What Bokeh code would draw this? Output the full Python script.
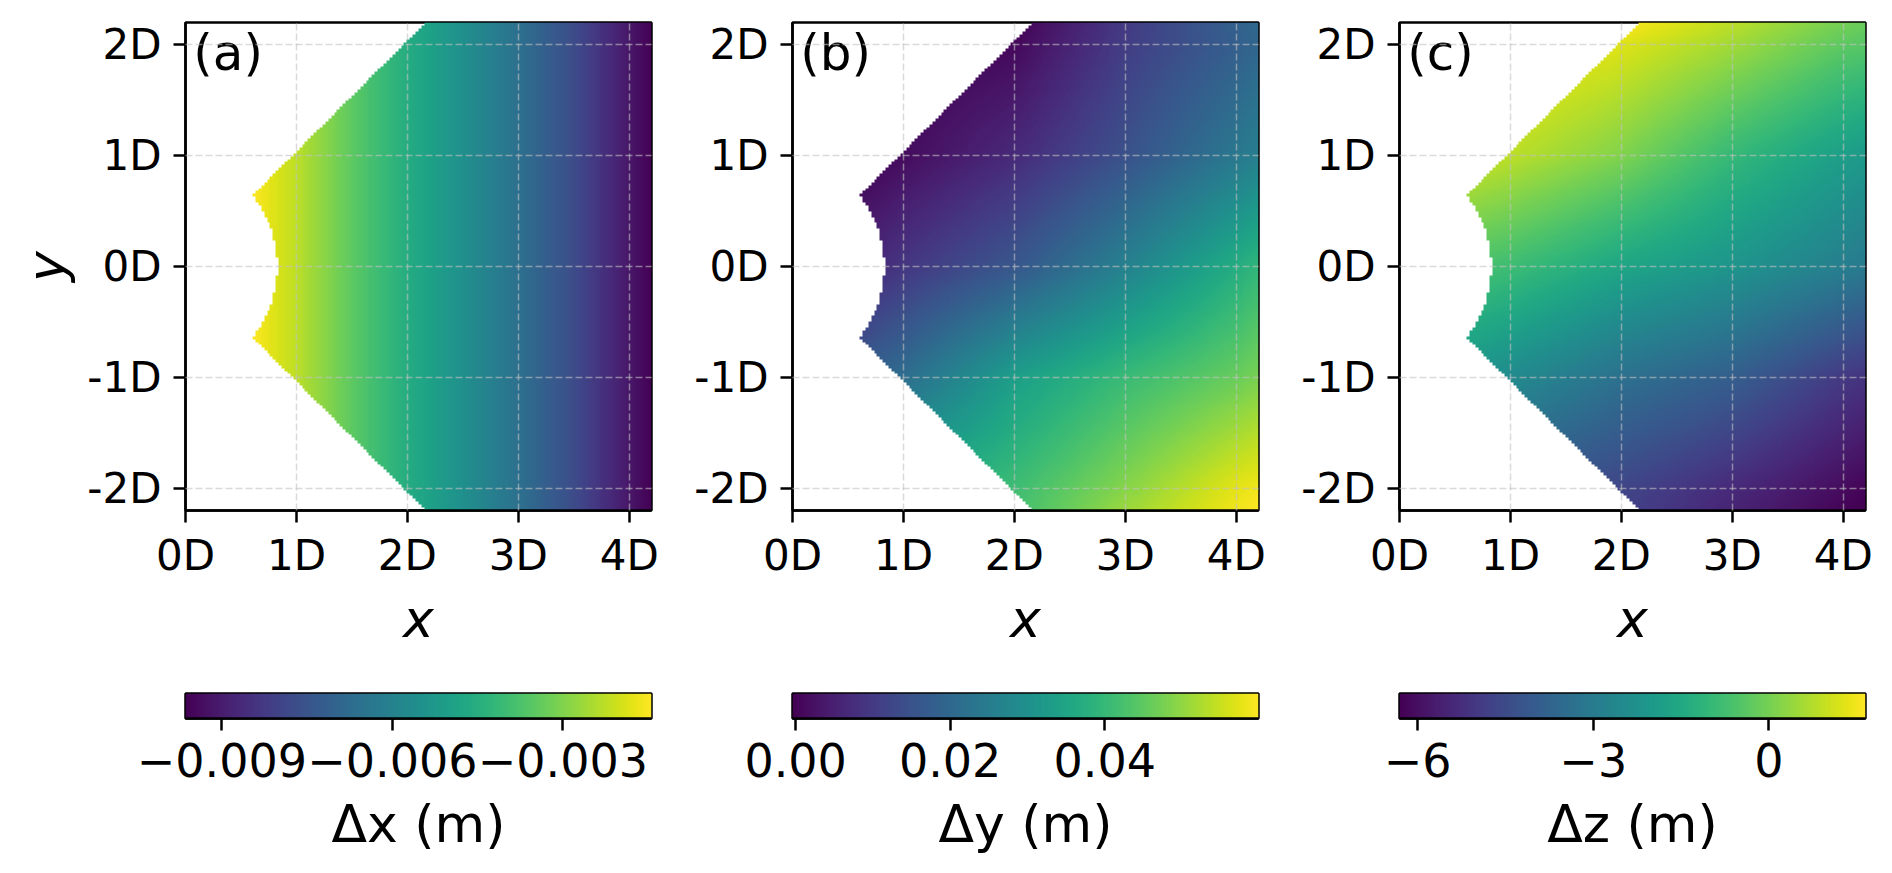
import numpy as np
from bokeh.plotting import figure
from bokeh.models import LinearColorMapper, FixedTicker, Range1d, Label, CustomJSTickFormatter
from bokeh.layouts import column, row
from bokeh.palettes import Viridis256
from bokeh.embed import file_html
from bokeh.resources import INLINE

# ---------------- axis ticks ----------------
x_ticks = [0, 1, 2, 3, 4]
x_tick_labels = ["0D", "1D", "2D", "3D", "4D"]
y_ticks = [-2, -1, 0, 1, 2]
y_tick_labels = ["-2D", "-1D", "0D", "1D", "2D"]

# ---------------- sampled field values (read from the picture) ----------------
# panel (a): Δx depends on x only
dx_x = [0.6, 1.0, 1.5, 2.0, 2.5, 3.0, 3.5, 4.0, 4.2]
dx_values = [-0.00144, -0.00226, -0.00349, -0.00456, -0.00554, -0.00661, -0.00775, -0.00915, -0.00964]

# panels (b), (c): values on a coarse grid (rows = grid_y, cols = grid_x)
grid_x = [0.6, 1.0, 2.0, 3.0, 4.0, 4.2]
grid_y = [2.2, 2.0, 1.0, 0.0, -1.0, -2.0, -2.2]

dy_values = [
    [-0.0004, -0.0004, -0.0004, 0.0099, 0.0183, 0.0201],
    [-0.0004, -0.0004, 0.0008, 0.0105, 0.0177, 0.0195],
    [-0.0004, 0.0014, 0.0068, 0.0147, 0.0237, 0.0255],
    [0.0056, 0.0092, 0.0159, 0.0261, 0.0370, 0.0394],
    [0.0177, 0.0213, 0.0334, 0.0406, 0.0460, 0.0478],
    [0.0328, 0.0358, 0.0412, 0.0490, 0.0575, 0.0587],
    [0.0346, 0.0376, 0.0418, 0.0509, 0.0587, 0.0599],
]

dz_values = [
    [1.65, 1.65, 1.65, 0.85, -0.02, -0.18],
    [1.65, 1.65, 1.25, 0.54, -0.34, -0.42],
    [1.09, 0.85, 0.14, -0.98, -1.85, -2.01],
    [-0.58, -0.82, -1.61, -2.17, -2.89, -3.05],
    [-2.17, -2.49, -3.36, -3.92, -4.96, -5.12],
    [-3.76, -4.08, -4.64, -5.36, -6.07, -6.23],
    [-4.00, -4.32, -4.72, -5.51, -6.23, -6.31],
]

# colour ranges
dx_range = [-0.00964, -0.00144]
dy_range = [-0.0004, 0.0599]
dz_range = [-6.31, 1.65]

# colourbar ticks
cb_ticks_a = [-0.009, -0.006, -0.003]
cb_labels_a = ["\u22120.009", "\u22120.006", "\u22120.003"]
cb_ticks_b = [0.0, 0.02, 0.04]
cb_labels_b = ["0.00", "0.02", "0.04"]
cb_ticks_c = [-6, -3, 0]
cb_labels_c = ["\u22126", "\u22123", "0"]

panel_tags = ["(a)", "(b)", "(c)"]
cb_titles = ["\u0394x (m)", "\u0394y (m)", "\u0394z (m)"]

# ---------------- geometry of the domain ----------------
XMIN, XMAX, YMIN, YMAX = 0.0, 4.2, -2.2, 2.2
NX, NY = 160, 168
xc = XMIN + (np.arange(NX) + 0.5) * (XMAX - XMIN) / NX
yc = YMIN + (np.arange(NY) + 0.5) * (YMAX - YMIN) / NY
XX, YY = np.meshgrid(xc, yc)
inside = (XX >= np.abs(YY) - 0.03) & ((XX + 0.17) ** 2 + YY ** 2 >= 1.0)


def on_grid(table):
    t = np.array(table, dtype=float)[::-1]
    gy = np.array(grid_y, dtype=float)[::-1]
    rows = np.array([np.interp(xc, grid_x, r) for r in t])
    out = np.empty((NY, NX))
    for j in range(NX):
        out[:, j] = np.interp(yc, gy, rows[:, j])
    return out


field_a = np.interp(XX, dx_x, dx_values)
field_b = on_grid(dy_values)
field_c = on_grid(dz_values)
fields = []
for f in (field_a, field_b, field_c):
    g = f.copy()
    g[~inside] = np.nan
    fields.append(g)

ranges = [dx_range, dy_range, dz_range]
cb_ticks = [cb_ticks_a, cb_ticks_b, cb_ticks_c]
cb_labels = [cb_labels_a, cb_labels_b, cb_labels_c]

FONT = "DejaVu Sans"
FW, FH = 466, 488
TOP1, BOT1 = 22, 150
TOP2, CBH, BOT2 = 33, 25, 150
borders = [(185, 40), (101, 40), (101, 26)]

LOOKUP = """
let best = 0; let d = Infinity;
for (let i = 0; i < tv.length; i++) { const e = Math.abs(tv[i] - tick); if (e < d) { d = e; best = i; } }
return tl[best];
"""


def style_axis(ax, label_size="42px"):
    ax.major_tick_out = 12
    ax.major_tick_in = 0
    ax.major_tick_line_width = 2.5
    ax.major_tick_line_color = "black"
    ax.minor_tick_line_color = None
    ax.axis_line_width = 2.5
    ax.axis_line_color = "black"
    ax.major_label_text_font = FONT
    ax.major_label_text_font_size = label_size
    ax.major_label_text_color = "black"
    ax.axis_label_text_font = FONT
    ax.axis_label_text_font_size = "52px"
    ax.axis_label_text_color = "black"


panels = []
cbars = []
for i in range(3):
    L, R = borders[i]
    lo, hi = ranges[i]
    mapper = LinearColorMapper(palette=Viridis256, low=lo, high=hi, nan_color=(0, 0, 0, 0))

    p = figure(width=L + FW + R, height=TOP1 + FH + BOT1,
               x_range=Range1d(XMIN, XMAX), y_range=Range1d(YMIN, YMAX),
               min_border_left=L, min_border_right=R, min_border_top=TOP1, min_border_bottom=BOT1,
               output_backend="svg", toolbar_location=None)
    p.image(image=[fields[i]], x=XMIN, y=YMIN, dw=XMAX - XMIN, dh=YMAX - YMIN, color_mapper=mapper)
    p.background_fill_color = "white"
    p.border_fill_color = "white"
    p.outline_line_color = "black"
    p.outline_line_width = 2.5

    p.xaxis.ticker = FixedTicker(ticks=x_ticks)
    p.yaxis.ticker = FixedTicker(ticks=y_ticks)
    p.xaxis.formatter = CustomJSTickFormatter(args=dict(tv=x_ticks, tl=x_tick_labels), code=LOOKUP)
    p.yaxis.formatter = CustomJSTickFormatter(args=dict(tv=y_ticks, tl=y_tick_labels), code=LOOKUP)
    style_axis(p.xaxis[0])
    style_axis(p.yaxis[0])
    p.xaxis.major_label_standoff = 8
    p.yaxis.major_label_standoff = 12
    p.xaxis.axis_label = "x"
    p.xaxis.axis_label_text_font_style = "italic"
    p.xaxis.axis_label_standoff = 6
    if i == 0:
        p.yaxis.axis_label = "y"
        p.yaxis.axis_label_text_font_style = "italic"
        p.yaxis.axis_label_standoff = 8

    p.grid.level = "overlay"
    p.grid.grid_line_color = "#c1c1c1"
    p.grid.grid_line_alpha = 0.6
    p.grid.grid_line_dash = "7 3"
    p.grid.grid_line_width = 1.5

    p.add_layout(Label(x=0.07, y=2.19, text=panel_tags[i], text_baseline="top", text_align="left",
                       text_font=FONT, text_font_size="50px", text_color="black"))
    panels.append(p)

    c = figure(width=L + FW + R, height=TOP2 + CBH + BOT2,
               x_range=Range1d(lo, hi), y_range=Range1d(0, 1),
               min_border_left=L, min_border_right=R, min_border_top=TOP2, min_border_bottom=BOT2,
               output_backend="svg", toolbar_location=None)
    c.image(image=[np.linspace(lo, hi, 256).reshape(1, -1)], x=lo, y=0, dw=hi - lo, dh=1, color_mapper=mapper)
    c.yaxis.visible = False
    c.grid.visible = False
    c.outline_line_color = "black"
    c.outline_line_width = 2.5
    c.border_fill_color = "white"
    c.xaxis.ticker = FixedTicker(ticks=cb_ticks[i])
    c.xaxis.formatter = CustomJSTickFormatter(args=dict(tv=cb_ticks[i], tl=cb_labels[i]), code=LOOKUP)
    style_axis(c.xaxis[0], label_size="46px")
    c.xaxis.major_label_standoff = 12
    c.xaxis.axis_label = cb_titles[i]
    c.xaxis.axis_label_text_font_style = "normal"
    c.xaxis.axis_label_standoff = 14
    cbars.append(c)

layout = column(row(*panels), row(*cbars))
open("out.html", "w").write(file_html(layout, INLINE))
